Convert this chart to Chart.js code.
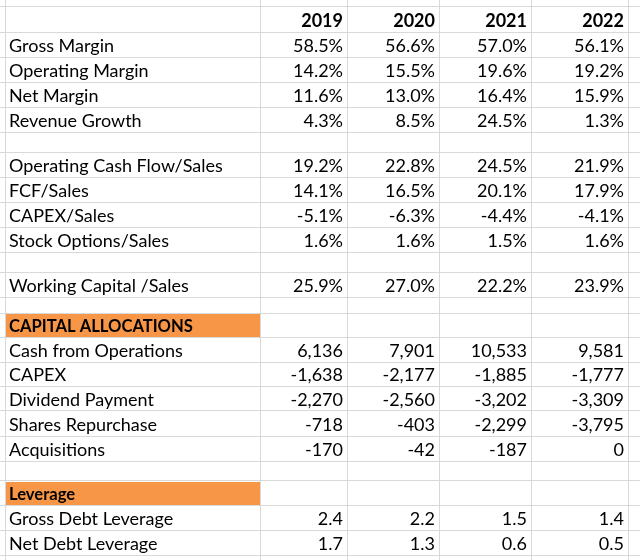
<!DOCTYPE html>
<html>
<head>
<meta charset="utf-8">
<script src="https://cdn.jsdelivr.net/npm/chart.js@4"></script>
<style>
  body { margin: 0; background: #fff; }
  #wrap { width: 640px; height: 560px; }
</style>
</head>
<body>
<div id="wrap"><canvas id="sheet"></canvas></div>
<script>
const years = ["2019", "2020", "2021", "2022"];

const marginLabels = ["Gross Margin", "Operating Margin", "Net Margin", "Revenue Growth"];
const grossMargin = [58.5, 56.6, 57.0, 56.1];
const operatingMargin = [14.2, 15.5, 19.6, 19.2];
const netMargin = [11.6, 13.0, 16.4, 15.9];
const revenueGrowth = [4.3, 8.5, 24.5, 1.3];

const cashLabels = ["Operating Cash Flow/Sales", "FCF/Sales", "CAPEX/Sales", "Stock Options/Sales"];
const ocfSales = [19.2, 22.8, 24.5, 21.9];
const fcfSales = [14.1, 16.5, 20.1, 17.9];
const capexSales = [-5.1, -6.3, -4.4, -4.1];
const optionsSales = [1.6, 1.6, 1.5, 1.6];

const wcLabel = "Working Capital /Sales";
const wcSales = [25.9, 27.0, 22.2, 23.9];

const allocTitle = "CAPITAL ALLOCATIONS";
const allocLabels = ["Cash from Operations", "CAPEX", "Dividend Payment", "Shares Repurchase", "Acquisitions"];
const cashFromOps = [6136, 7901, 10533, 9581];
const capex = [-1638, -2177, -1885, -1777];
const dividends = [-2270, -2560, -3202, -3309];
const buybacks = [-718, -403, -2299, -3795];
const acquisitions = [-170, -42, -187, 0];

const leverageTitle = "Leverage";
const leverageLabels = ["Gross Debt Leverage", "Net Debt Leverage"];
const grossLeverage = [2.4, 2.2, 1.5, 1.4];
const netLeverage = [1.7, 1.3, 0.6, 0.5];

// layout of the sheet (sheet units = px at this zoom)
const FONT = "Lato";
const FONT_SIZE = 18;
const TITLE_SIZE = 16.6;
const ORANGE = "#f79646";
const colEdges = [5, 260, 347, 439, 531, 628];
const topOffset = 6;

const pct = v => v.toFixed(1) + "%";
const num = v => v.toLocaleString("en-US");
const dec = v => v.toFixed(1);

// sheet rows: kind, label, values, height
const rows = [];
rows.push({ kind: "head", label: "", values: years, h: 26 });
[grossMargin, operatingMargin, netMargin, revenueGrowth].forEach((v, i) =>
  rows.push({ kind: "data", label: marginLabels[i], values: v.map(pct), h: 25 }));
rows.push({ kind: "gap", h: 20 });
[ocfSales, fcfSales, capexSales, optionsSales].forEach((v, i) =>
  rows.push({ kind: "data", label: cashLabels[i], values: v.map(pct), h: 25 }));
rows.push({ kind: "gap", h: 20 });
rows.push({ kind: "data", label: wcLabel, values: wcSales.map(pct), h: 25 });
rows.push({ kind: "gap", h: 16 });
rows.push({ kind: "title", label: allocTitle, h: 24 });
[cashFromOps, capex, dividends, buybacks, acquisitions].forEach((v, i) =>
  rows.push({ kind: "data", label: allocLabels[i], values: v.map(num), h: i == 1 ? 24 : 25 }));
rows.push({ kind: "gap", h: 20 });
rows.push({ kind: "title", label: leverageTitle, h: 24 });
[grossLeverage, netLeverage].forEach((v, i) =>
  rows.push({ kind: "data", label: leverageLabels[i], values: v.map(dec), h: 25 }));

let acc = topOffset;
const rowEdges = [acc];
rows.forEach(r => { r.top = acc; acc += r.h; r.bottom = acc; rowEdges.push(acc); });

const cellPlugin = {
  id: "cells",
  afterDraw(chart) {
    const ctx = chart.ctx;
    const x = chart.scales.x, y = chart.scales.y;
    ctx.save();
    rows.forEach(r => {
      const yt = y.getPixelForValue(r.top);
      const yb = y.getPixelForValue(r.bottom);
      if (r.kind == "title") {
        const x0 = x.getPixelForValue(colEdges[0]);
        const x1 = x.getPixelForValue(colEdges[1]);
        ctx.fillStyle = ORANGE;
        ctx.fillRect(x0 + 1, yt + 1, x1 - x0 - 1, yb - yt - 1);
      }
      ctx.fillStyle = "#000";
      ctx.textBaseline = "alphabetic";
      if (r.kind == "title") ctx.font = "bold " + TITLE_SIZE + "px " + FONT;
      else if (r.kind == "head") ctx.font = "bold " + FONT_SIZE + "px " + FONT;
      else ctx.font = FONT_SIZE + "px " + FONT;
      if (r.label) {
        ctx.textAlign = "left";
        ctx.fillText(r.label, x.getPixelForValue(colEdges[0]) + 4, yb - 5);
      }
      if (r.values) {
        ctx.textAlign = "right";
        r.values.forEach((t, i) => {
          ctx.fillText(t, x.getPixelForValue(colEdges[i + 2]) - 4, yb - 5);
        });
      }
    });
    ctx.restore();
  }
};

const gridAxis = (edges, reverse, max) => ({
  type: "linear",
  min: 0,
  max: max,
  reverse: reverse,
  afterBuildTicks: axis => { axis.ticks = edges.map(v => ({ value: v })); },
  grid: { color: "#d9d9d9", lineWidth: 1, drawTicks: false },
  border: { display: false },
  ticks: { display: false }
});

new Chart(document.getElementById("sheet"), {
  type: "scatter",
  data: { datasets: [] },
  options: {
    responsive: true,
    maintainAspectRatio: false,
    animation: false,
    layout: { padding: 0 },
    plugins: { legend: { display: false }, tooltip: { enabled: false } },
    scales: {
      x: gridAxis(colEdges, false, 640),
      y: gridAxis(rowEdges, true, 560)
    }
  },
  plugins: [cellPlugin]
});
</script>
</body>
</html>
